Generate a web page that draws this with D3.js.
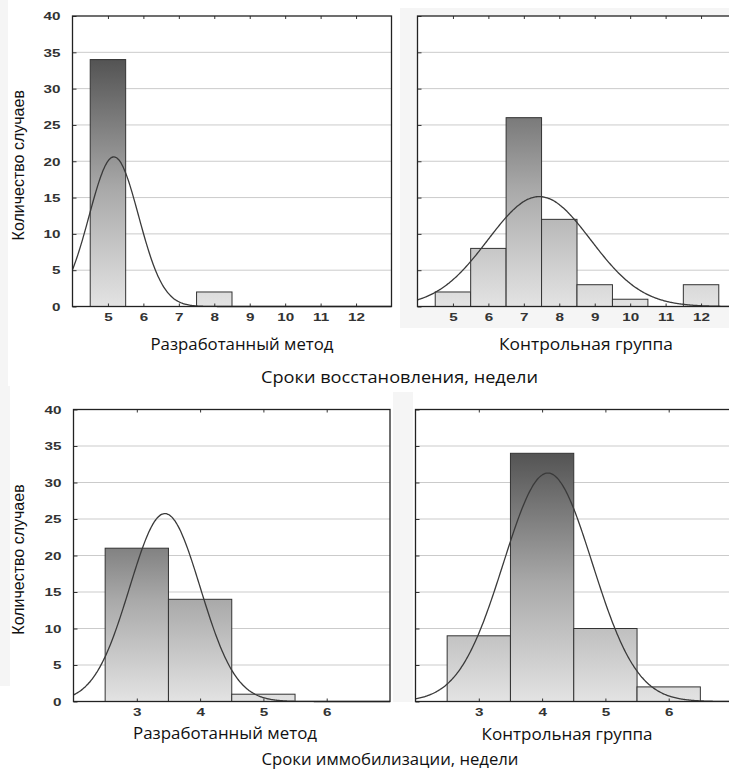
<!DOCTYPE html>
<html>
<head>
<meta charset="utf-8">
<script src="https://cdn.jsdelivr.net/npm/d3@7"></script>
<style>
  html, body { margin: 0; padding: 0; background: #fff; }
  svg { display: block; }
</style>
</head>
<body>
<svg id="chart" width="729" height="772"></svg>
<script>
// Гистограммы: сроки восстановления и иммобилизации (недели)
const recoveryWeeks = [5, 6, 7, 8, 9, 10, 11, 12];
const recoveryDeveloped = [34, 0, 0, 2, 0, 0, 0, 0];
const recoveryControl = [2, 8, 26, 12, 3, 1, 0, 3];

const immobWeeks = [3, 4, 5, 6];
const immobDeveloped = [21, 14, 1, 0];
const immobControl = [9, 34, 10, 2];

const yTicks = [0, 5, 10, 15, 20, 25, 30, 35, 40];

const yTitle = "Количество случаев";
const groupNames = ["Разработанный метод", "Контрольная группа"];
const rowTitles = ["Сроки восстановления, недели", "Сроки иммобилизации, недели"];

const svg = d3.select("#chart");

// светло-серые подложки как на скане
const patches = [
  [0, 0, 8, 390], [400, 8, 329, 320], [0, 386, 10, 300], [393, 392, 20, 310]
];
svg.selectAll("rect.patch").data(patches).enter().append("rect")
  .attr("x", d => d[0]).attr("y", d => d[1]).attr("width", d => d[2]).attr("height", d => d[3])
  .attr("fill", "#f5f5f5");

const panels = [
  { bins: recoveryWeeks, counts: recoveryDeveloped, dom: [4, 13], x0: 72.5, x1: 391.5, y0: 306.5, y1: 16, labels: true, gradTop: 36, sub: groupNames[0], subX: 242, subY: 350, subW: 183 },
  { bins: recoveryWeeks, counts: recoveryControl, dom: [4, 13], x0: 417.5, x1: 736.5, y0: 306.5, y1: 16, labels: false, gradTop: 36, sub: groupNames[1], subX: 586, subY: 350, subW: 174 },
  { bins: immobWeeks, counts: immobDeveloped, dom: [2, 7], x0: 73.5, x1: 390, y0: 701.5, y1: 409.5, labels: true, gradTop: 31, sub: groupNames[0], subX: 225, subY: 739, subW: 184 },
  { bins: immobWeeks, counts: immobControl, dom: [2, 7], x0: 415.5, x1: 732, y0: 701.5, y1: 409.5, labels: false, gradTop: 36, sub: groupNames[1], subX: 567, subY: 740, subW: 171 }
];

const defs = svg.append("defs");
const stretch = 1.45;

panels.forEach(function (p, i) {
  const x = d3.scaleLinear().domain(p.dom).range([p.x0, p.x1]);
  const y = d3.scaleLinear().domain([0, 40]).range([p.y0, p.y1]);
  const g = svg.append("g");

  g.append("rect")
    .attr("x", p.x0).attr("y", p.y1)
    .attr("width", p.x1 - p.x0).attr("height", p.y0 - p.y1)
    .attr("fill", "#fff");

  // сетка
  g.selectAll("line.grid")
    .data(yTicks.filter(v => v > 0 && v < 40))
    .enter().append("line")
    .attr("x1", p.x0).attr("x2", p.x1)
    .attr("y1", d => y(d)).attr("y2", d => y(d))
    .attr("stroke", "#cbcbcb").attr("stroke-width", 1);

  // градиент заливки
  const grad = defs.append("linearGradient")
    .attr("id", "grad" + i)
    .attr("gradientUnits", "userSpaceOnUse")
    .attr("x1", 0).attr("x2", 0)
    .attr("y1", y(0)).attr("y2", y(p.gradTop));
  grad.append("stop").attr("offset", 0).attr("stop-color", "#e3e3e3");
  grad.append("stop").attr("offset", 0.45).attr("stop-color", "#a9a9a9");
  grad.append("stop").attr("offset", 1).attr("stop-color", "#4a4a4a");

  // столбцы
  const data = p.bins.map((b, k) => ({ bin: b, n: p.counts[k] })).filter(d => d.n > 0);
  g.selectAll("rect.bar").data(data).enter().append("rect")
    .attr("x", d => x(d.bin - 0.5))
    .attr("width", d => x(d.bin + 0.5) - x(d.bin - 0.5))
    .attr("y", d => y(d.n))
    .attr("height", d => y(0) - y(d.n))
    .attr("fill", "url(#grad" + i + ")")
    .attr("stroke", "#333").attr("stroke-width", 1);

  // нормальная кривая по данным столбцов
  const total = d3.sum(p.counts);
  const mean = d3.sum(p.bins, (b, k) => b * p.counts[k]) / total;
  const sd = Math.sqrt(d3.sum(p.bins, (b, k) => p.counts[k] * (b - mean) ** 2) / (total - 1));
  const xs = d3.range(p.dom[0], p.dom[1] + 0.001, (p.dom[1] - p.dom[0]) / 300);
  const dens = v => total / (sd * Math.sqrt(2 * Math.PI)) * Math.exp(-0.5 * ((v - mean) / sd) ** 2);
  g.append("path")
    .datum(xs)
    .attr("d", d3.line().x(v => x(v)).y(v => y(dens(v))).curve(d3.curveBasis))
    .attr("fill", "none").attr("stroke", "#3a3a3a").attr("stroke-width", 1.3);

  // оси
  const xAxis = g.append("g").attr("transform", "translate(0," + p.y0 + ")")
    .call(d3.axisBottom(x).tickValues(p.bins).tickSize(-3).tickPadding(10).tickFormat(d3.format("d")));
  g.append("g").attr("transform", "translate(0," + p.y1 + ")")
    .call(d3.axisTop(x).tickValues(p.bins).tickSize(-3).tickFormat(""));
  const yAxis = g.append("g").attr("transform", "translate(" + p.x0 + ",0)")
    .call(d3.axisLeft(y).tickValues(yTicks).tickSize(-4).tickPadding(12)
      .tickFormat(p.labels ? d3.format("d") : ""));
  g.selectAll(".domain").remove();
  g.selectAll(".tick line").attr("stroke", "#333");

  xAxis.selectAll("text")
    .attr("y", 14.5).attr("dy", null)
    .attr("transform", "scale(" + stretch + ",1)")
    .style("font-family", "'Liberation Sans', Arial, sans-serif")
    .style("font-weight", "bold").style("font-size", "10.5px").attr("fill", "#333");
  yAxis.selectAll("text")
    .attr("x", -12 / stretch).attr("dy", "0.36em")
    .attr("transform", "scale(" + stretch + ",1)")
    .style("font-family", "'Liberation Sans', Arial, sans-serif")
    .style("font-weight", "bold").style("font-size", "10.5px").attr("fill", "#333");

  // рамка
  g.append("rect")
    .attr("x", p.x0).attr("y", p.y1)
    .attr("width", p.x1 - p.x0).attr("height", p.y0 - p.y1)
    .attr("fill", "none").attr("stroke", "#222").attr("stroke-width", 1.3);

  // подпись группы
  svg.append("text")
    .attr("x", p.subX).attr("y", p.subY)
    .attr("text-anchor", "middle")
    .attr("textLength", p.subW).attr("lengthAdjust", "spacingAndGlyphs")
    .style("font-family", "'Open Sans', sans-serif").style("font-size", "17px")
    .attr("fill", "#111")
    .text(p.sub);

  if (p.labels) {
    svg.append("text")
      .attr("transform", "translate(24," + ((p.y0 + p.y1) / 2 + 4) + ") rotate(-90)")
      .attr("text-anchor", "middle")
      .style("font-family", "'Liberation Sans', Arial, sans-serif").style("font-size", "16px")
      .attr("fill", "#111")
      .text(yTitle);
  }
});

// общие подписи рядов
const rowPos = [[399.5, 383, 277], [390, 765, 257]];
svg.selectAll("text.row").data(rowTitles).enter().append("text")
  .attr("x", (d, k) => rowPos[k][0]).attr("y", (d, k) => rowPos[k][1])
  .attr("text-anchor", "middle")
  .attr("textLength", (d, k) => rowPos[k][2]).attr("lengthAdjust", "spacingAndGlyphs")
  .style("font-family", "'Open Sans', sans-serif").style("font-size", "17px")
  .attr("fill", "#111")
  .text(d => d);
</script>
</body>
</html>
